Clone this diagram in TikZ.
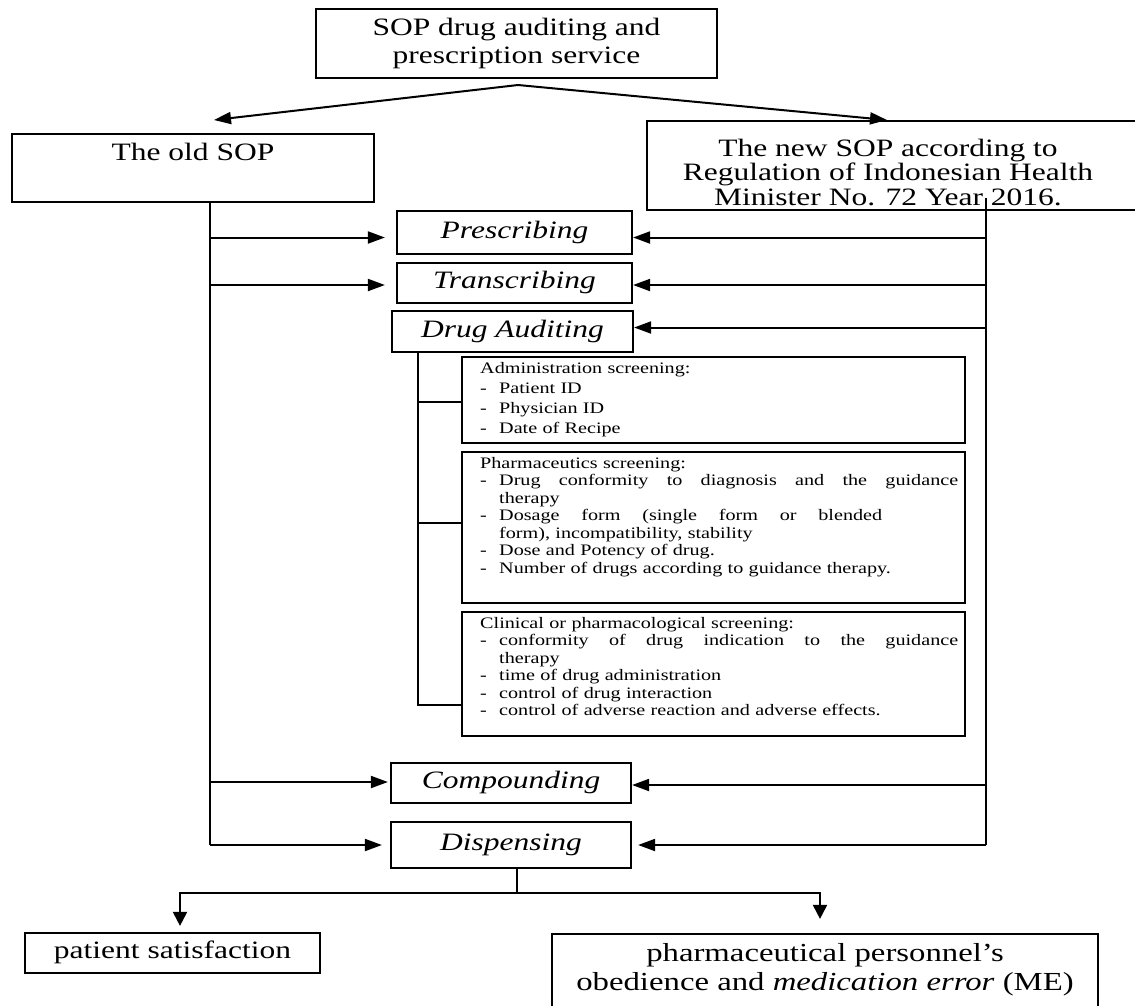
\documentclass[tikz,border=0pt]{standalone}
\usepackage{fontspec}
\setmainfont{Liberation Serif}[FakeStretch=1.26]
\usetikzlibrary{arrows.meta,calc}
\newcommand{\itemdash}{\makebox[19pt][l]{-}}
\tikzset{
  box/.style={draw, line width=2.2pt, inner sep=0pt, rectangle},
  ln/.style={line width=2pt},
  arr/.style={ln, -{Triangle[length=17pt,width=12pt]}},
  arrd/.style={ln, -{Triangle[length=14pt,width=14pt]}},
  bigfont/.style={font=\fontsize{25}{28}\selectfont},
  itlabel/.style={font=\fontsize{25}{28}\selectfont\itshape, text height=17pt, text depth=6pt},
  uplabel/.style={font=\fontsize{25}{28}\selectfont, text height=17pt, text depth=6pt},
  smalltxt/.style={anchor=north west, inner sep=0pt, text width=480pt, align=left},
}
\begin{document}
\begin{tikzpicture}[x=1pt,y=-1pt]
\useasboundingbox (0,0) rectangle (1135,1005);
\fill[white] (0,0) rectangle (1135,1005);

% top box
\node[box, bigfont, minimum width=401pt, minimum height=69pt, align=center] (top) at (516.5,43.5) {SOP drug auditing and\\prescription service};
\coordinate (apex) at (518,85);
\coordinate (oldtip) at (214,120);
\coordinate (newtip) at (887,120);

% old / new SOP
\node[box, minimum width=362pt, minimum height=68pt] (old) at (193,168) {};
\node[uplabel, inner sep=0pt] (oldtxt) at (193,155) {The old SOP};
\node[box, minimum width=493pt, minimum height=89pt] (new) at (893.5,165.5) {};
\node[font=\fontsize{25}{24.5}\selectfont, align=center, inner sep=0pt] (newtxt) at (888,172) {The new SOP according to\\Regulation of Indonesian Health\\Minister No. 72 Year 2016.};

\draw[arr] (apex) -- (oldtip);
\draw[arr] (apex) -- (newtip);

% process boxes
\node[box, itlabel, minimum width=235pt, minimum height=43pt] (presc) at (514.5,232.5) {Prescribing};
\node[box, itlabel, minimum width=235pt, minimum height=40pt] (trans) at (514.5,283) {Transcribing};
\node[box, itlabel, minimum width=241pt, minimum height=41pt] (drug) at (512.5,331.5) {Drug Auditing};
\node[box, itlabel, minimum width=240pt, minimum height=40pt] (comp) at (511,783) {Compounding};
\node[box, itlabel, minimum width=240pt, minimum height=46pt] (disp) at (511,845) {Dispensing};

% screening boxes
\node[box, minimum width=503pt, minimum height=86pt] (admin) at (713.5,400) {};
\node[box, minimum width=503pt, minimum height=151pt] (pharm) at (713.5,527.5) {};
\node[box, minimum width=503pt, minimum height=124pt] (clin) at (713.5,674) {};

\node[smalltxt, font=\fontsize{16}{20}\selectfont] (admintxt) at (480,362) {Administration screening:\\
\itemdash Patient ID\\
\itemdash Physician ID\\
\itemdash Date of Recipe};

\node[smalltxt, font=\fontsize{16}{17.5}\selectfont] (pharmtxt) at (480,457) {Pharmaceutics screening:\\
\itemdash\makebox[459pt][s]{Drug\hfill conformity\hfill to\hfill diagnosis\hfill and\hfill the\hfill guidance}\\
\hspace*{19pt}therapy\\
\itemdash\makebox[383pt][s]{Dosage\hfill form\hfill (single\hfill form\hfill or\hfill blended}\\
\hspace*{19pt}form), incompatibility, stability\\
\itemdash Dose and Potency of drug.\\
\itemdash Number of drugs according to guidance therapy.};

\node[smalltxt, font=\fontsize{16}{17.5}\selectfont] (clintxt) at (480,617) {Clinical or pharmacological screening:\\
\itemdash\makebox[459pt][s]{conformity\hfill of\hfill drug\hfill indication\hfill to\hfill the\hfill guidance}\\
\hspace*{19pt}therapy\\
\itemdash time of drug administration\\
\itemdash control of drug interaction\\
\itemdash control of adverse reaction and adverse effects.};

% left trunk (old SOP)
\coordinate (Lx) at (210,0);
\draw[ln] (old.south -| Lx) -- (disp.west -| Lx);
\draw[arr, shorten >=11pt] ($(presc.west -| Lx)+(0,5)$) -- ($(presc.west)+(0,5)$);
\draw[arr, shorten >=11pt] ($(trans.west -| Lx)+(0,2)$) -- ($(trans.west)+(0,2)$);
\draw[arr, shorten >=2pt] ($(comp.west -| Lx)+(0,-1)$) -- ($(comp.west)+(0,-1)$);
\draw[arr, shorten >=8pt] (disp.west -| Lx) -- (disp.west);

% right trunk (new SOP)
\coordinate (Rx) at (986,0);
\draw[ln] ($(new.south -| Rx)+(0,-13)$) -- (disp.east -| Rx);
\draw[arr] ($(presc.east -| Rx)+(0,5)$) -- ($(presc.east)+(0,5)$);
\draw[arr] ($(trans.east -| Rx)+(0,2)$) -- ($(trans.east)+(0,2)$);
\draw[arr] ($(drug.east -| Rx)+(0,-4)$) -- ($(drug.east)+(0,-4)$);
\draw[arr] ($(comp.east -| Rx)+(0,2)$) -- ($(comp.east)+(0,2)$);
\draw[arr, shorten >=6pt] (disp.east -| Rx) -- (disp.east);

% drug auditing tree
\coordinate (Dx) at (418,0);
\draw[ln] (drug.south -| Dx) |- ($(clin.west)+(0,31)$);
\draw[ln] ($(admin.west -| Dx)+(0,2)$) -- ($(admin.west)+(0,2)$);
\draw[ln] ($(pharm.west -| Dx)+(0,-5)$) -- ($(pharm.west)+(0,-5)$);

% outcomes
\node[box, uplabel, minimum width=295pt, minimum height=40pt] (sat) at (172.5,953) {patient satisfaction};
\node[box, minimum width=546pt, minimum height=81pt] (me) at (825,974.5) {};
\node[font=\fontsize{26}{29}\selectfont, align=center, inner sep=0pt] (metxt) at (825,969.5) {pharmaceutical personnel’s\\obedience and \textit{medication error} (ME)};

\coordinate (bj) at (517,893);
\coordinate (SLx) at (180,0);
\coordinate (MRx) at (820,0);
\draw[ln] (disp.south -| bj) -- (bj);
\draw[arrd, shorten >=6pt] (bj) -| (sat.north -| SLx);
\draw[arrd, shorten >=14pt] (bj) -| (me.north -| MRx);
\end{tikzpicture}
\end{document}
